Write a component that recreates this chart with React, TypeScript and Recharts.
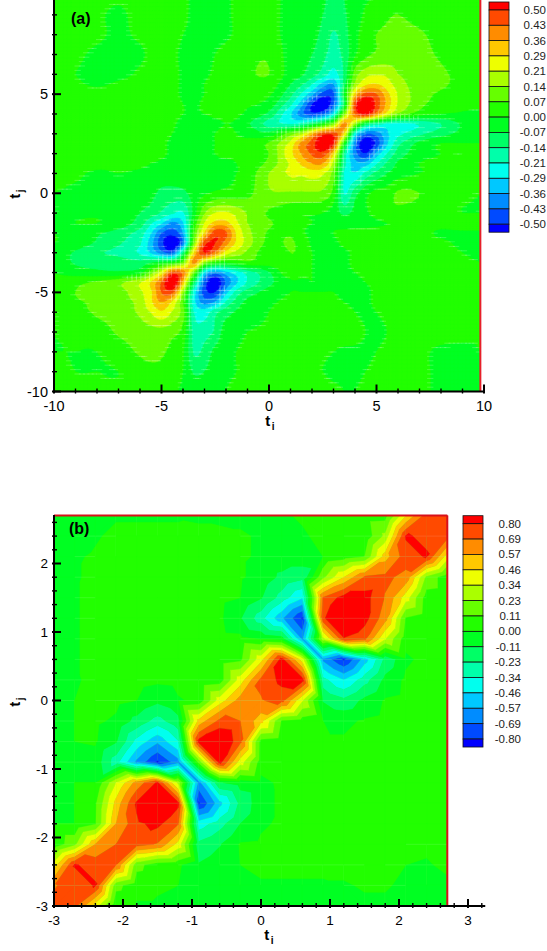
import React from 'react';
import { ScatterChart, Scatter, XAxis, YAxis, ReferenceLine, ReferenceArea } from 'recharts';

// ---------- panel (a) ----------
const xsA = [-10,-9,-8,-7,-6,-5.5,-5,-4.5,-4,-3.5,-3,-2.5,-2,-1.5,-1,0,1,1.5,2,2.5,3,3.5,4,4.5,5,5.5,6,7,8,9,9.83];
const ysA = [10,9,8,7,6,5.5,5,4.5,4,3.5,3,2.5,2,1.5,1,0,-1,-1.5,-2,-2.5,-3,-3.5,-4,-4.5,-5,-5.5,-6,-7,-8,-9,-10];
// values x100, rows from top (y=10) to bottom (y=-10)
const valuesA = [
[2,2,2,1,2,2,2,2,1,-1,-2,-2,-1,1,1,1,-1,-2,-3,-6,-9,-7,-3,-1,0,1,1,1,1,0,0],
[3,3,1,-1,2,3,3,3,1,-1,-2,-2,-1,1,2,2,-2,-3,-4,-7,-10,-8,-3,1,4,6,7,4,2,1,1],
[3,2,1,-1,1,3,3,2,0,-1,-2,-2,-1,1,3,3,-3,-4,-5,-9,-15,-10,-2,3,7,8,9,8,4,2,1],
[3,1,-1,-2,-1,1,2,1,-1,-2,-2,0,2,3,5,6,-3,-5,-7,-12,-17,-12,-1,5,8,9,10,9,6,3,2],
[2,0,-1,-2,1,3,3,2,-1,-2,-1,1,3,4,6,7,-3,-6,-11,-17,-24,-13,10,18,20,19,14,10,8,5,3],
[2,1,-1,1,3,4,4,2,-1,-2,0,2,3,3,4,4,-7,-13,-21,-32,-36,-11,15,27,29,24,17,10,8,5,3],
[2,3,3,3,4,4,4,2,-1,-2,0,2,2,2,2,1,-12,-22,-34,-46,-45,-5,30,45,43,31,20,10,6,4,2],
[2,4,4,4,5,4,4,2,0,-1,1,3,3,2,1,-3,-19,-33,-50,-58,-44,-10,46,60,47,33,20,9,4,2,1],
[3,4,5,5,5,5,4,2,0,-1,0,1,1,1,-2,-9,-28,-40,-48,-44,-28,12,42,52,38,24,12,3,0,-1,-1],
[3,4,4,4,4,4,3,1,-2,-4,-3,-1,0,-1,-6,-17,-22,-20,-12,-2,12,38,15,-10,-18,-22,-24,-20,-14,-6,-2],
[2,2,3,3,3,3,2,0,-2,-3,-2,0,1,0,-2,-5,10,18,33,46,47,28,-25,-42,-40,-30,-23,-16,-10,-5,-2],
[3,3,3,3,3,3,1,-1,-2,-2,-1,0,1,1,2,8,23,38,46,58,50,0,-40,-58,-48,-30,-16,-5,0,0,0],
[3,4,3,3,2,2,1,-1,-2,-2,-1,0,1,1,2,7,26,36,44,47,30,-15,-40,-50,-34,-21,-11,-3,0,0,1],
[3,3,2,1,1,0,-1,-2,-3,-3,-1,-1,-1,0,2,9,22,30,36,36,18,-18,-33,-33,-22,-13,-6,0,1,1,1],
[2,1,-1,0,-1,-2,-3,-3,-3,-3,-2,-2,-1,0,3,14,22,22,24,22,10,-22,-28,-19,-12,-7,-3,0,1,2,1],
[0,-1,-1,-2,-3,-5,-9,-10,-9,-4,-1,1,2,3,5,13,13,13,13,12,4,-22,-10,-2,2,3,8,7,2,1,0],
[0,-1,-1,-3,-7,-10,-15,-20,-22,-5,13,21,22,18,13,6,2,1,1,0,-3,-9,-5,-1,2,5,5,3,1,0,0],
[-1,0,0,-3,-10,-20,-28,-38,-30,0,21,31,31,22,14,8,3,1,0,-1,-1,-3,-3,-2,-1,0,1,1,2,3,3],
[0,-2,-6,-10,-17,-28,-43,-47,-36,5,29,47,44,27,16,6,6,1,-1,-1,0,1,2,2,2,2,2,2,-1,-1,-1],
[0,-3,-8,-13,-20,-33,-48,-58,-42,10,46,50,39,27,17,5,8,4,-1,-2,-1,1,2,2,2,2,2,2,1,-1,-1],
[-3,-8,-13,-16,-22,-30,-40,-45,-15,28,50,40,25,18,12,2,7,5,0,-2,-2,-1,1,2,2,2,2,2,2,0,-1],
[-2,-8,-10,-10,-12,-8,-4,-1,10,38,14,2,0,2,5,3,6,4,0,-2,-2,-1,1,2,2,2,2,3,3,1,0],
[0,-3,-5,-6,-3,10,24,45,40,12,-28,-40,-32,-25,-18,-8,5,2,0,-1,-1,-1,0,1,2,2,2,3,3,1,0],
[1,5,8,12,20,29,43,60,32,-10,-45,-58,-42,-30,-20,-9,-2,-1,0,-1,-1,-1,-1,0,1,2,2,3,3,1,0],
[1,7,9,11,19,27,43,45,15,-24,-47,-50,-32,-18,-11,-4,0,0,0,0,0,-1,-1,-1,1,2,2,3,2,1,0],
[1,6,8,11,16,27,36,27,7,-26,-39,-35,-20,-11,-5,-1,1,1,1,1,1,0,-1,-1,1,2,2,3,2,1,0],
[0,4,8,10,15,21,27,20,10,-21,-25,-16,-10,-6,-3,0,2,2,1,1,2,2,0,-1,0,1,2,3,2,1,0],
[0,1,3,8,10,11,11,9,4,-17,-17,-13,-3,-2,0,1,3,3,3,3,3,3,2,0,-1,0,1,2,2,1,0],
[0,0,0,3,8,9,8,5,1,-15,-12,-5,-2,0,1,2,3,3,2,1,0,-1,-1,-1,0,1,1,1,-1,-1,0],
[1,0,0,0,3,5,5,3,0,-8,-7,-3,-1,0,1,2,2,3,1,0,-1,-1,-1,0,1,1,2,1,-1,-2,-1],
[2,1,1,1,1,2,2,1,-1,-3,-3,-1,0,1,2,2,3,3,2,2,1,0,0,1,1,2,2,1,-1,-2,-1],
];
const levelsA = [-50,-43,-36,-29,-21,-14,-7,0,7,14,21,29,36,43,50];
const levelLabelsA = ['0.50','0.43','0.36','0.29','0.21','0.14','0.07','0.00','-0.07','-0.14','-0.21','-0.29','-0.36','-0.43','-0.50'];
const xTicksA = [-10,-9,-8,-7,-6,-5,-4,-3,-2,-1,0,1,2,3,4,5,6,7,8,9,10];
const yTicksA = [-10,-9,-8,-7,-6,-5,-4,-3,-2,-1,0,1,2,3,4,5,6,7,8,9];

// ---------- panel (b) ----------
const xsB = [-3,-2.7,-2.4,-2.1,-1.8,-1.5,-1.2,-0.9,-0.6,-0.3,0,0.3,0.6,0.9,1.2,1.5,1.8,2.1,2.4,2.7];
const ysB = [2.7,2.4,2.1,1.8,1.5,1.2,0.9,0.6,0.3,0,-0.3,-0.6,-0.9,-1.2,-1.5,-1.8,-2.1,-2.4,-2.7,-3];
const valuesB = [
[-2,-4,-3,-1,-1,-1,-1,-2,-2,-2,-2,-1,1,3,3,5,6,45,74,75],
[-2,-4,-1,2,2,2,2,3,2,1,-1,-2,-1,2,3,2,26,81,78,74],
[-2,-1,1,3,4,4,4,4,4,1,-1,-3,-3,0,5,11,52,76,81,40],
[-2,-1,2,3,4,4,4,4,4,1,-3,-14,-20,20,46,70,72,65,20,3],
[-3,-1,3,4,4,4,4,4,3,0,-10,-28,-45,70,85,85,68,40,5,3],
[-3,-1,3,4,4,4,4,4,2,-10,-30,-55,-82,78,98,85,62,10,3,3],
[-3,-1,3,4,4,4,4,4,4,3,-1,-5,-60,30,79,72,35,4,3,3],
[-3,-1,3,4,4,4,4,3,4,8,42,85,40,-60,-82,-52,-20,-2,3,3],
[-3,-1,2,3,4,2,3,1,4,40,72,83,85,-30,-46,-28,-8,2,3,3],
[-2,0,2,3,0,-8,-1,2,40,62,68,74,35,-12,-20,-8,1,3,3,3],
[-2,0,2,-2,-15,-28,-15,50,72,69,50,10,5,0,-2,1,3,3,3,3],
[-1,0,1,-10,-38,-55,-35,85,95,72,6,3,1,1,1,2,3,3,3,3],
[-1,-1,-4,-30,-60,-82,-62,15,85,40,5,2,2,2,2,3,3,3,3,3],
[-1,0,0,34,62,82,30,-62,-12,-6,-3,2,3,3,3,3,3,3,3,3],
[-1,0,9,50,82,98,83,-82,-50,-20,-4,2,3,3,3,3,3,3,3,3],
[0,0,10,57,78,83,70,-40,-28,-11,-2,2,3,3,3,3,3,3,3,3],
[2,20,57,69,74,68,42,-20,-12,1,2,2,3,3,3,3,3,3,2,3],
[40,81,76,69,15,4,2,-10,-4,0,2,2,2,2,3,3,2,0,-1,2],
[68,74,81,15,3,1,0,-1,-3,-2,-1,-1,-1,-1,-1,1,1,-2,-5,-2],
[72,72,40,1,-1,-1,-2,-3,-3,-3,-2,-2,-2,-2,-2,-2,-2,-2,-3,-2],
];
const levelsB = [-80,-69,-57,-46,-34,-23,-11,0,11,23,34,46,57,69,80];
const levelLabelsB = ['0.80','0.69','0.57','0.46','0.34','0.23','0.11','0.00','-0.11','-0.23','-0.34','-0.46','-0.57','-0.69','-0.80'];
const xTicksB = [-3,-2.8,-2.6,-2.4,-2.2,-2,-1.8,-1.6,-1.4,-1.2,-1,-0.8,-0.6,-0.4,-0.2,0,0.2,0.4,0.6,0.8,1,1.2,1.4,1.6,1.8,2,2.2,2.4,2.6,2.8,3,3.2];
const yTicksB = [-3,-2.8,-2.6,-2.4,-2.2,-2,-1.8,-1.6,-1.4,-1.2,-1,-0.8,-0.6,-0.4,-0.2,0,0.2,0.4,0.6,0.8,1,1.2,1.4,1.6,1.8,2,2.2,2.4,2.6];

// ascending contour colours, lowest band first
const bandColors = ['#0000ff','#004aff','#008cff','#00c8ff','#00ffee','#00ffaa','#00ff66','#00ff22','#22ff00','#66ff00','#aaff00','#eeff00','#ffc800','#ff8c00','#ff4a00','#ff0000'];

type V = { x: number; y: number; v: number };

function bandOf(v: number, levels: number[]) {
  let b = 0;
  while (b < levels.length && v >= levels[b]) b++;
  return b;
}
function clip(poly: V[], level: number, keepAbove: boolean): V[] {
  const out: V[] = [];
  for (let k = 0; k < poly.length; k++) {
    const a = poly[k], c = poly[(k + 1) % poly.length];
    const ina = keepAbove ? a.v >= level : a.v <= level;
    const inc = keepAbove ? c.v >= level : c.v <= level;
    if (ina) out.push(a);
    if (ina !== inc) {
      const t = (level - a.v) / (c.v - a.v);
      out.push({ x: a.x + t * (c.x - a.x), y: a.y + t * (c.y - a.y), v: level });
    }
  }
  return out;
}
function pathOf(p: V[]) {
  return 'M' + p.map((q) => q.x.toFixed(2) + ' ' + q.y.toFixed(2)).join('L') + 'Z';
}
function addTriangle(tri: V[], levels: number[], paths: string[]) {
  const bs = tri.map((t) => bandOf(t.v, levels));
  const lo = Math.min(...bs), hi = Math.max(...bs);
  for (let b = lo; b <= hi; b++) {
    let p = tri;
    if (b > 0) p = clip(p, levels[b - 1], true);
    if (b < levels.length && p.length) p = clip(p, levels[b], false);
    if (p.length >= 3) paths[b] += pathOf(p);
  }
}
function cr(a: number, b: number, c: number, d: number, t: number) {
  return 0.5 * (2 * b + (c - a) * t + (2 * a - 5 * b + 4 * c - d) * t * t + (3 * b - a - 3 * c + d) * t * t * t);
}

type Panel = { xs: number[]; ys: number[]; values: number[][]; levels: number[]; pxX: number; pxY: number; sub: number };

function sample(P: Panel, r: number, i: number, s: number, t: number) {
  const R = P.values.length - 1, C = P.values[0].length - 1;
  if (P.sub === 1) return P.values[r + (t > 0.5 ? 1 : 0)][i + (s > 0.5 ? 1 : 0)];
  const row = (rr: number) => {
    const a = P.values[Math.max(0, Math.min(R, rr))];
    return cr(a[Math.max(0, i - 1)], a[i], a[i + 1], a[Math.min(C, i + 2)], s);
  };
  return cr(row(r - 1), row(r), row(r + 1), row(r + 2), t);
}

const MESH = 4.4;

function ContourCell(props: any, P: Panel) {
  const { cx, cy, payload } = props;
  const { r, i } = payload;
  const w = (P.xs[i + 1] - P.xs[i]) * P.pxX;
  const h = (P.ys[r] - P.ys[r + 1]) * P.pxY;
  const x0 = cx, yB = cy, yT = yB - h;
  const n = P.sub;
  const grid: V[][] = [];
  for (let a = 0; a <= n; a++) {
    const line: V[] = [];
    for (let c = 0; c <= n; c++) {
      line.push({ x: x0 + (w * c) / n, y: yT + (h * a) / n, v: sample(P, r, i, c / n, a / n) });
    }
    grid.push(line);
  }
  const paths = bandColors.map(() => '');
  const solids = bandColors.map(() => '');
  let mesh = '';
  for (let a = 0; a < n; a++) {
    for (let c = 0; c < n; c++) {
      const tl = grid[a][c], tr = grid[a][c + 1], bl = grid[a + 1][c], br = grid[a + 1][c + 1];
      const bs = [tl, tr, bl, br].map((q) => bandOf(q.v, P.levels));
      const lo = Math.min(...bs), hi = Math.max(...bs);
      if (lo === hi) {
        solids[lo] += pathOf([tl, tr, br, bl]);
      } else {
        if (Math.abs(tl.v + br.v) > Math.abs(tr.v + bl.v)) {
          addTriangle([tl, tr, br], P.levels, paths);
          addTriangle([tl, br, bl], P.levels, paths);
        } else {
          addTriangle([tl, tr, bl], P.levels, paths);
          addTriangle([tr, br, bl], P.levels, paths);
        }
        if (n > 1) {
          const my = Math.ceil(tl.y / MESH) * MESH;
          if (my <= bl.y) mesh += `M${(tl.x - 1).toFixed(1)} ${my.toFixed(1)}H${(tr.x + 1).toFixed(1)}`;
          if (hi - lo >= 2 || Math.abs(tl.v - br.v) > 6) {
            const mx = Math.ceil(tl.x / MESH) * MESH;
            if (mx <= tr.x) mesh += `M${mx.toFixed(1)} ${(tl.y - 1).toFixed(1)}V${(bl.y + 1).toFixed(1)}`;
          }
        } else {
          mesh += `M${tl.x.toFixed(1)} ${tl.y.toFixed(1)}H${tr.x.toFixed(1)}V${br.y.toFixed(1)}`;
        }
      }
    }
  }
  return (
    <g>
      {solids.map((d, b) => d && <path key={'s' + b} d={d} fill={bandColors[b]} stroke={bandColors[b]} strokeWidth={0.8} />)}
      {paths.map((d, b) => d && <path key={'p' + b} d={d} fill={bandColors[b]} stroke={bandColors[b]} strokeWidth={0.35} />)}
      {mesh && <path d={mesh} stroke="#fff" strokeOpacity={n > 1 ? 0.36 : 0.2} strokeWidth={0.6} fill="none" />}
    </g>
  );
}

function cellsOf(xs: number[], ys: number[]) {
  const out: { x: number; y: number; r: number; i: number }[] = [];
  for (let r = 0; r < ys.length - 1; r++) {
    for (let i = 0; i < xs.length - 1; i++) out.push({ x: xs[i], y: ys[r + 1], r, i });
  }
  return out;
}

const FONT = '"Liberation Sans", Arial, sans-serif';

function makeXTick(size: number, dy: number, every: number) {
  return (p: any) => {
    const v = p.payload.value;
    const major = Number.isInteger(v) && v % every === 0;
    return (
      <g>
        <line x1={p.x} x2={p.x} y1={p.y} y2={p.y - (major ? 9 : 5)} stroke="#000" strokeWidth={major ? 2 : 1.4} />
        {major && <text x={p.x} y={p.y + dy} textAnchor="middle" fontFamily={FONT} fontSize={size} fill="#000">{v}</text>}
      </g>
    );
  };
}
function makeYTick(size: number, every: number) {
  return (p: any) => {
    const v = p.payload.value;
    const major = Number.isInteger(v) && v % every === 0;
    return (
      <g>
        <line x1={p.x} x2={p.x + (major ? 9 : 5)} y1={p.y} y2={p.y} stroke="#000" strokeWidth={major ? 2 : 1.4} />
        {major && <text x={48} y={p.y + 5} textAnchor="end" fontFamily={FONT} fontSize={size} fill="#000">{v}</text>}
      </g>
    );
  };
}

const panelA: Panel = { xs: xsA, ys: ysA, values: valuesA, levels: levelsA, pxX: 21.5, pxY: 19.85, sub: 5 };
const panelB: Panel = { xs: xsB, ys: ysB, values: valuesB, levels: levelsB, pxX: 69, pxY: 68.5, sub: 1 };
const cellsA = cellsOf(xsA, ysA);
const cellsB = cellsOf(xsB, ysB);

function ColorLegend({ x, y0, step, labels, labelX, topPad }: { x: number; y0: number; step: number; labels: string[]; labelX: number; topPad: number }) {
  const n = labels.length;
  const colors = [...bandColors].reverse();
  return (
    <g>
      {colors.map((c, k) => {
        const top = k === 0 ? y0 - topPad : y0 + (k - 1) * step;
        const bottom = k === n ? y0 + (n - 1) * step + topPad : y0 + k * step;
        return <rect key={k} x={x} y={top} width={20} height={bottom - top} fill={c} stroke="#111" strokeWidth={0.8} />;
      })}
      {labels.map((t, k) => (
        <text key={t} x={labelX} y={y0 + k * step + 4} textAnchor="end" fontFamily={FONT} fontSize={11.5} fill="#222">{t}</text>
      ))}
    </g>
  );
}

function SubLabel({ x, y, base, sub, rotate }: { x: number; y: number; base: string; sub: string; rotate?: boolean }) {
  return (
    <text x={x} y={y} fontFamily={FONT} fontWeight="bold" fontSize={15} fill="#000" textAnchor="middle"
      transform={rotate ? `rotate(-90 ${x} ${y})` : undefined}>
      {base}
      <tspan dx={1.5} dy={4} fontSize={10}>{sub}</tspan>
    </text>
  );
}

const axisStyle = { stroke: '#000', strokeWidth: 2 };

export default function App() {
  return (
    <div style={{ position: 'absolute', left: 0, top: 0, width: 547, height: 951, background: '#fff', overflow: 'hidden' }}>
      {/* panel (a): contour bands */}
      <div style={{ position: 'absolute', left: 0, top: 0 }}>
        <ScatterChart width={547} height={440} margin={{ top: 0, right: 63, bottom: 0, left: 0 }}>
          <XAxis type="number" dataKey="x" domain={[-10, 10]} ticks={xTicksA} height={48.5} tick={false} tickLine={false} axisLine={false} allowDataOverflow />
          <YAxis type="number" dataKey="y" domain={[-10, 9.75]} ticks={yTicksA} width={54} tick={false} tickLine={false} axisLine={false} allowDataOverflow />
          <ReferenceArea x1={-10} x2={9.83} y1={-10} y2={9.75} fill="#22ff00" fillOpacity={1} stroke="none" />
          <Scatter data={cellsA} isAnimationActive={false} shape={(p: any) => ContourCell(p, panelA)} />
        </ScatterChart>
      </div>
      {/* panel (a): axes and frame on top of the bands */}
      <div style={{ position: 'absolute', left: 0, top: 0 }}>
        <ScatterChart width={547} height={440} margin={{ top: 0, right: 63, bottom: 0, left: 0 }}>
          <XAxis type="number" dataKey="x" domain={[-10, 10]} ticks={xTicksA} interval={0} height={48.5} tickSize={0} tickLine={false}
            axisLine={axisStyle} tick={makeXTick(14.5, 17, 5)} allowDataOverflow />
          <YAxis type="number" dataKey="y" domain={[-10, 9.75]} ticks={yTicksA} interval={0} width={54} tickSize={0} tickLine={false}
            axisLine={axisStyle} tick={makeYTick(14.5, 5)} allowDataOverflow />
          <ReferenceLine x={9.83} stroke="#e6202a" strokeWidth={2} />
        </ScatterChart>
      </div>
      {/* panel (b): contour bands */}
      <div style={{ position: 'absolute', left: 0, top: 480 }}>
        <ScatterChart width={547} height={470} margin={{ top: 35, right: 61.75, bottom: 0, left: 0 }}>
          <XAxis type="number" dataKey="x" domain={[-3, 3.25]} ticks={xTicksB} height={44} tick={false} tickLine={false} axisLine={false} allowDataOverflow />
          <YAxis type="number" dataKey="y" domain={[-3, 2.708]} ticks={yTicksB} width={54} tick={false} tickLine={false} axisLine={false} allowDataOverflow />
          <ReferenceArea x1={-3} x2={2.7} y1={-3} y2={2.7} fill="#22ff00" fillOpacity={1} stroke="none" />
          <Scatter data={cellsB} isAnimationActive={false} shape={(p: any) => ContourCell(p, panelB)} />
        </ScatterChart>
      </div>
      {/* panel (b): axes and frame */}
      <div style={{ position: 'absolute', left: 0, top: 480 }}>
        <ScatterChart width={547} height={470} margin={{ top: 35, right: 61.75, bottom: 0, left: 0 }}>
          <XAxis type="number" dataKey="x" domain={[-3, 3.25]} ticks={xTicksB} interval={0} height={44} tickSize={0} tickLine={false}
            axisLine={axisStyle} tick={makeXTick(13.5, 16.5, 1)} allowDataOverflow />
          <YAxis type="number" dataKey="y" domain={[-3, 2.708]} ticks={yTicksB} interval={0} width={54} tickSize={0} tickLine={false}
            axisLine={axisStyle} tick={makeYTick(13.5, 1)} allowDataOverflow />
          <ReferenceLine segment={[{ x: 2.7, y: -3 }, { x: 2.7, y: 2.7 }]} stroke="#d8101a" strokeWidth={2} />
          <ReferenceLine segment={[{ x: -3, y: 2.7 }, { x: 2.7, y: 2.7 }]} stroke="#d8101a" strokeWidth={2} />
        </ScatterChart>
      </div>
      <svg width={547} height={951} style={{ position: 'absolute', left: 0, top: 0, pointerEvents: 'none' }}>
        <ColorLegend x={489} y0={10} step={15.3} labels={levelLabelsA} labelX={546} topPad={8} />
        <ColorLegend x={463} y0={523.7} step={15.38} labels={levelLabelsB} labelX={521} topPad={8} />
        <text x={71} y={24} fontFamily={FONT} fontWeight="bold" fontSize={16} fill="#000">(a)</text>
        <text x={69} y={534} fontFamily={FONT} fontWeight="bold" fontSize={16} fill="#000">(b)</text>
        <SubLabel x={270} y={426} base="t" sub="i" />
        <SubLabel x={269} y={940} base="t" sub="i" />
        <SubLabel x={20} y={194} base="t" sub="j" rotate />
        <SubLabel x={20} y={702} base="t" sub="j" rotate />
      </svg>
    </div>
  );
}
